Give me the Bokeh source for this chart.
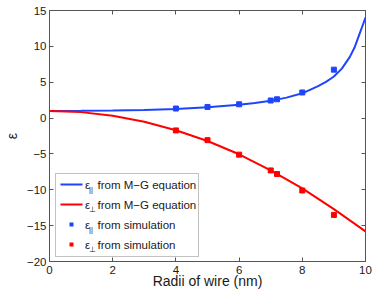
from bokeh.plotting import figure
from bokeh.models import Range1d, FixedTicker, LinearAxis, BoxAnnotation, Label
from bokeh.embed import file_html
from bokeh.resources import INLINE

# ---- data ----
x_mg_par = [0, 1, 2, 3, 4, 5, 6, 6.5, 7, 7.5, 8, 8.5, 8.75, 9, 9.25, 9.5, 9.65, 9.8, 9.9, 10]
eps_mg_par = [1.0, 1.01, 1.05, 1.13, 1.28, 1.5, 1.85, 2.1, 2.4, 2.85, 3.45, 4.45, 5.05,
              5.8, 6.9, 8.5, 9.8, 11.6, 12.8, 14.0]

x_mg_perp = [0, 1, 2, 3, 4, 5, 6, 7, 8, 9, 10]
eps_mg_perp = [1.0, 0.83, 0.32, -0.52, -1.7, -3.2, -5.05, -7.3, -9.8, -12.7, -15.8]

x_sim = [4, 5, 6, 7, 7.2, 8, 9]
eps_sim_par = [1.33, 1.55, 1.92, 2.45, 2.62, 3.57, 6.75]
eps_sim_perp = [-1.72, -3.08, -5.1, -7.3, -7.8, -10.1, -13.5]

x_ticks = [0, 2, 4, 6, 8, 10]
y_ticks = [-20, -15, -10, -5, 0, 5, 10, 15]

x_label = "Radii of wire (nm)"
y_label = "ε"
legend_main = ["ε", "ε", "ε", "ε"]
legend_sub = ["||", "⊥", "||", "⊥"]
legend_text = ["from M−G equation", "from M−G equation",
               "from simulation", "from simulation"]

BLUE = "#1f45fc"
RED = "#ff0000"
AXIS = "#555555"
TEXT = "#1a1a1a"
FONT = "Liberation Sans"

p = figure(width=374, height=293, x_range=Range1d(0, 10), y_range=Range1d(-20, 15),
           output_backend="svg", toolbar_location=None,
           min_border_left=45, min_border_right=9, min_border_top=10, min_border_bottom=32)
p.outline_line_color = None
p.grid.visible = False
p.background_fill_color = "white"
p.border_fill_color = "white"

def style_axis(ax, labels=True):
    ax.axis_line_color = AXIS
    ax.axis_line_width = 1
    ax.major_tick_line_color = AXIS
    ax.major_tick_in = 4
    ax.major_tick_out = 0
    ax.minor_tick_line_color = None
    ax.major_label_text_font = FONT
    ax.major_label_text_color = TEXT
    if labels:
        ax.major_label_text_font_size = "11.5px"
    else:
        ax.major_label_text_font_size = "1px"
        ax.major_label_text_color = None
        ax.major_label_standoff = 0

style_axis(p.xaxis[0])
style_axis(p.yaxis[0])
p.xaxis[0].ticker = FixedTicker(ticks=x_ticks)
p.yaxis[0].ticker = FixedTicker(ticks=y_ticks)
p.xaxis[0].major_label_standoff = 4
p.yaxis[0].major_label_standoff = 3
p.yaxis[0].major_label_overrides = {t: (("−" + str(-t)) if t < 0 else str(t)) for t in y_ticks}

p.xaxis[0].axis_label = x_label
p.xaxis[0].axis_label_text_font = FONT
p.xaxis[0].axis_label_text_font_style = "normal"
p.xaxis[0].axis_label_text_font_size = "14px"
p.xaxis[0].axis_label_text_color = TEXT
p.xaxis[0].axis_label_standoff = -4

p.yaxis[0].axis_label = y_label
p.yaxis[0].axis_label_text_font = FONT
p.yaxis[0].axis_label_text_font_style = "normal"
p.yaxis[0].axis_label_text_font_size = "14px"
p.yaxis[0].axis_label_text_color = TEXT
p.yaxis[0].axis_label_standoff = 4

top_ax = LinearAxis(ticker=FixedTicker(ticks=x_ticks))
right_ax = LinearAxis(ticker=FixedTicker(ticks=y_ticks))
style_axis(top_ax, labels=False)
style_axis(right_ax, labels=False)
p.add_layout(top_ax, "above")
p.add_layout(right_ax, "right")

# curves and simulation points
p.line(x_mg_par, eps_mg_par, line_color=BLUE, line_width=2)
p.line(x_mg_perp, eps_mg_perp, line_color=RED, line_width=2)
p.scatter(x_sim, eps_sim_par, marker="square", size=5, fill_color=BLUE, line_color=BLUE)
p.scatter(x_sim, eps_sim_perp, marker="square", size=5, fill_color=RED, line_color=RED)

# manual legend (screen units, relative to the plot frame)
def sbox(left, right, bottom, top, **kw):
    return BoxAnnotation(left=left, right=right, bottom=bottom, top=top,
                         left_units="screen", right_units="screen",
                         bottom_units="screen", top_units="screen",
                         fill_alpha=1.0, level="overlay", **kw)

p.add_layout(sbox(6, 149, 5, 88, fill_color="white", line_color="#333333", line_width=1))
rows_y = [77, 57, 37, 17]
sample_colors = [BLUE, RED, BLUE, RED]
for i, yy in enumerate(rows_y):
    if i < 2:
        p.add_layout(sbox(11, 33, yy - 1, yy + 1, fill_color=sample_colors[i], line_color=None))
    else:
        p.add_layout(sbox(20, 24, yy - 2, yy + 2, fill_color=sample_colors[i], line_color=None))
    p.add_layout(Label(x=35.5, y=yy, x_units="screen", y_units="screen",
                       text=legend_main[i], text_baseline="alphabetic",
                       text_font=FONT, text_font_size="11.5px",
                       text_color=TEXT, level="overlay"))
    p.add_layout(Label(x=39.5, y=yy - 5, x_units="screen", y_units="screen",
                       text=legend_sub[i], text_baseline="alphabetic",
                       text_font=FONT, text_font_size="7.5px",
                       text_color=TEXT, level="overlay"))
    p.add_layout(Label(x=48, y=yy, x_units="screen", y_units="screen",
                       text=legend_text[i], text_baseline="alphabetic",
                       text_font=FONT, text_font_size="11.5px",
                       text_color=TEXT, level="overlay"))

open("out.html", "w").write(file_html(p, INLINE))
